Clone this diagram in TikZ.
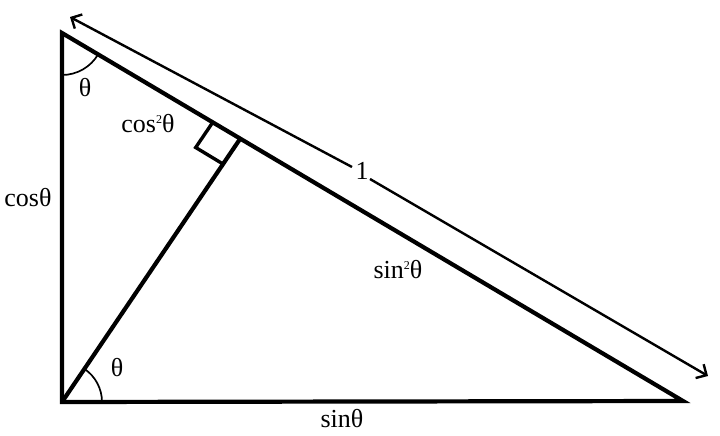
\documentclass[tikz,border=0pt]{standalone}
\usepackage{fontspec}
\setmainfont{Liberation Serif}
\usetikzlibrary{arrows.meta}
\newcommand{\mysq}{{\fontsize{12}{12}\selectfont\raisebox{9pt}{2}}}
\begin{document}
\begin{tikzpicture}[x=1pt,y=-1pt,
  thickline/.style={line width=4.2pt},
  arrowline/.style={line width=2.4pt},
  arcline/.style={line width=1.7pt},
  lbl/.style={inner sep=0pt,font=\fontsize{26}{30}\selectfont},
  tip/.style={-{Straight Barb[length=8pt,width=16pt,line width=2.4pt]}}]
\useasboundingbox (0,0) rectangle (720,436);
\fill[white] (0,0) rectangle (720,436);
% vertices
\coordinate (A) at (62,33);
\coordinate (C) at (62,402);
\coordinate (B) at (683,401);
\coordinate (F) at (240,139);
\coordinate (F1) at (212.5,122.7);
\coordinate (F2) at (195.7,147.5);
\coordinate (F3) at (223,164);
% arrow line
\coordinate (P) at (70,17);
\coordinate (G1) at (352,167);
\coordinate (G2) at (370,179);
\coordinate (Q) at (708,376);
% triangle
\draw[thickline] (A) -- (C) -- (B) -- cycle;
\draw[thickline] (C) -- (F);
\draw[line width=3.4pt] (F1) -- (F2) -- (F3);
% angle arcs
\draw[arcline] ([shift={(90:42)}]A) arc[start angle=90,end angle=30.6,radius=42];
\draw[arcline] ([shift={(0:40)}]C) arc[start angle=0,end angle=-55.9,radius=40];
% arrow
\draw[arrowline,tip] (G1) -- (P);
\draw[arrowline,tip] (G2) -- (Q);
% labels
\node[lbl] (one) at (362,171) {1};
\node[lbl] (thA) at (85,88) {θ};
\node[lbl] (thC) at (117,368) {θ};
\node[lbl] (cos2) at (148,124) {cos\mysq θ};
\node[lbl] (cos) at (28,198) {cosθ};
\node[lbl] (sin2) at (398,270) {sin\mysq θ};
\node[lbl] (sin) at (342,419) {sinθ};
\end{tikzpicture}
\end{document}
